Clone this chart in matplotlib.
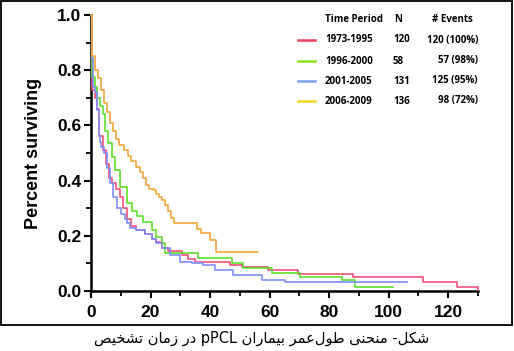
import matplotlib
matplotlib.use("Agg")
import matplotlib.pyplot as plt
from matplotlib.ticker import MultipleLocator
from matplotlib.lines import Line2D
from matplotlib.patches import Rectangle
import re

# ---------------- data ----------------
t_1973 = [0, 0.4, 1.5, 2.0, 2.8, 4.0, 5.0, 6.0, 7.0, 8.5, 9.7, 10.8, 12.0, 13.5, 15, 18, 20.5,
          22, 24, 26, 30.5, 32.6, 35, 46.7, 50.7, 59.5, 69.6, 88, 111.6, 123, 130]
s_1973 = [1.0, 0.73, 0.70, 0.66, 0.56, 0.51, 0.46, 0.41, 0.39, 0.37, 0.34, 0.30, 0.26, 0.235, 0.22,
          0.205, 0.19, 0.177, 0.155, 0.145, 0.13, 0.116, 0.105, 0.094, 0.087, 0.076, 0.062, 0.05,
          0.033, 0.015, 0.004]

t_1996 = [0, 0.5, 1.5, 2.0, 3.0, 4.0, 4.7, 5.7, 7.0, 8.0, 9.7, 12.0, 13.8, 15.5, 17.5, 20.5, 22,
          23.8, 25, 36, 47.4, 51, 60.8, 70.3, 84.4, 88.7, 101.5]
s_1996 = [1.0, 0.775, 0.74, 0.70, 0.67, 0.64, 0.58, 0.535, 0.485, 0.44, 0.377, 0.32, 0.29, 0.27,
          0.25, 0.22, 0.197, 0.174, 0.137, 0.12, 0.10, 0.083, 0.065, 0.05, 0.04, 0.015, 0.015]

t_2001 = [0, 0.3, 0.7, 1.5, 2.0, 2.6, 3.0, 3.5, 4.2, 5.3, 6.4, 7.4, 8.6, 10, 11.4, 12.2, 13, 15,
          18, 20.5, 22, 24, 26.5, 30, 34, 37.6, 41.7, 47.7, 57.5, 65, 106]
s_2001 = [1.0, 0.845, 0.74, 0.72, 0.655, 0.565, 0.54, 0.52, 0.50, 0.445, 0.39, 0.34, 0.30, 0.28,
          0.26, 0.245, 0.23, 0.22, 0.205, 0.19, 0.175, 0.155, 0.13, 0.105, 0.10, 0.094, 0.076,
          0.058, 0.04, 0.033, 0.033]

t_2006 = [0, 0.3, 1.5, 2.2, 3.5, 4.5, 5.5, 6.5, 7.5, 8.5, 9.5, 11, 12.5, 13.5, 15, 16.5, 17.5,
          18.5, 19.5, 21, 22, 23, 24, 25, 26, 27, 28, 35.5, 37, 40, 42, 56]
s_2006 = [1.0, 0.85, 0.80, 0.77, 0.73, 0.68, 0.65, 0.61, 0.58, 0.55, 0.53, 0.51, 0.49, 0.47, 0.45,
          0.43, 0.41, 0.385, 0.37, 0.365, 0.35, 0.34, 0.33, 0.31, 0.29, 0.265, 0.245, 0.225, 0.21,
          0.185, 0.14, 0.14]

periods = ["1973-1995", "1996-2000", "2001-2005", "2006-2009"]
n_values = ["120", "58", "131", "136"]
events = ["120 (100%)", "57 (98%)", "125 (95%)", "98 (72%)"]
curve_colors = ["#f2507a", "#5fe02a", "#7f8cf8", "#f5a53a"]
legend_colors = ["#ef3f5c", "#86e21e", "#7aa2ff", "#f2d21e"]

x_ticks = [0, 20, 40, 60, 80, 100, 120]
y_ticks = [0.0, 0.2, 0.4, 0.6, 0.8, 1.0]
caption = "شکل- منحنی طول\u200cعمر بیماران pPCL در زمان تشخیص"

# ---------------- simple Persian shaping ----------------
FORMS = {  # isolated, final, initial, medial
    "\u0627": (0xFE8D, 0xFE8E, None, None),
    "\u0628": (0xFE8F, 0xFE90, 0xFE91, 0xFE92),
    "\u062A": (0xFE95, 0xFE96, 0xFE97, 0xFE98),
    "\u062D": (0xFEA1, 0xFEA2, 0xFEA3, 0xFEA4),
    "\u062E": (0xFEA5, 0xFEA6, 0xFEA7, 0xFEA8),
    "\u062F": (0xFEA9, 0xFEAA, None, None),
    "\u0631": (0xFEAD, 0xFEAE, None, None),
    "\u0632": (0xFEAF, 0xFEB0, None, None),
    "\u0634": (0xFEB5, 0xFEB6, 0xFEB7, 0xFEB8),
    "\u0635": (0xFEB9, 0xFEBA, 0xFEBB, 0xFEBC),
    "\u0637": (0xFEC1, 0xFEC2, 0xFEC3, 0xFEC4),
    "\u0639": (0xFEC9, 0xFECA, 0xFECB, 0xFECC),
    "\u0644": (0xFEDD, 0xFEDE, 0xFEDF, 0xFEE0),
    "\u0645": (0xFEE1, 0xFEE2, 0xFEE3, 0xFEE4),
    "\u0646": (0xFEE5, 0xFEE6, 0xFEE7, 0xFEE8),
    "\u0648": (0xFEED, 0xFEEE, None, None),
    "\u06A9": (0xFB8E, 0xFB8F, 0xFB90, 0xFB91),
    "\u06CC": (0xFBFC, 0xFBFD, 0xFBFE, 0xFBFF),
}


def shape(text):
    out = []
    n = len(text)
    for i, ch in enumerate(text):
        if ch not in FORMS:
            out.append(ch)
            continue
        f = FORMS[ch]
        prev = text[i - 1] if i > 0 else ""
        nxt = text[i + 1] if i + 1 < n else ""
        jp = prev in FORMS and FORMS[prev][2] is not None
        jn = f[2] is not None and nxt in FORMS
        if jp and jn:
            code = f[3]
        elif jp:
            code = f[1]
        elif jn:
            code = f[2]
        else:
            code = f[0]
        out.append(chr(code))
    s = "".join(out).replace("\u200c", "")
    runs = re.findall(r"[A-Za-z0-9]+|[^A-Za-z0-9]+", s)
    vis = []
    for r in reversed(runs):
        vis.append(r if re.match(r"[A-Za-z0-9]", r) else r[::-1])
    return "".join(vis)


# ---------------- figure ----------------
fig = plt.figure(figsize=(5.14, 3.51), dpi=100)
W, H = 514, 351

ax = fig.add_axes([91 / W, 1 - 291 / H, (478 - 91) / W, (291 - 15) / H])
series = [(t_1973, s_1973), (t_1996, s_1996), (t_2001, s_2001), (t_2006, s_2006)]
for (t, s), c in zip(series, curve_colors):
    ax.step(t, s, where="post", color=c, lw=1.2, clip_on=False, zorder=3)

ax.set_xlim(0, 130)
ax.set_ylim(0, 1.0)
for side in ["top", "right"]:
    ax.spines[side].set_visible(False)
for side in ["left", "bottom"]:
    ax.spines[side].set_linewidth(1.8)
    ax.spines[side].set_color("black")

ax.set_xticks(x_ticks)
ax.set_xticklabels([str(v) for v in x_ticks])
ax.set_yticks(y_ticks)
ax.set_yticklabels([f"{v:.1f}" for v in y_ticks])
ax.xaxis.set_minor_locator(MultipleLocator(10))
ax.yaxis.set_minor_locator(MultipleLocator(0.1))
ax.tick_params(which="major", direction="out", length=5, width=1.5, pad=2,
               labelsize=12.5)
ax.tick_params(axis="x", which="major", pad=5)
ax.tick_params(which="minor", direction="out", length=3.5, width=1.3)
for lab in ax.get_xticklabels() + ax.get_yticklabels():
    lab.set_fontfamily("Liberation Sans")
    lab.set_fontweight("bold")
ax.set_ylabel("Percent surviving", fontsize=13, fontweight="bold",
              fontfamily="Liberation Sans", labelpad=11)
ax.patch.set_alpha(0)

# legend table
lf = dict(fontsize=7, fontweight="bold", fontfamily="Open Sans", va="center")
fig.text(325 / W, 1 - 20 / H, "Time Period", ha="left", **lf)
fig.text(394 / W, 1 - 20 / H, "N", ha="left", **lf)
fig.text(473 / W, 1 - 20 / H, "# Events", ha="right", **lf)
rows_y = [40, 61, 81, 101]
for yy, p, nv, ev, lc in zip(rows_y, periods, n_values, events, legend_colors):
    yf = 1 - yy / H
    fig.add_artist(Line2D([298 / W, 315 / W], [yf, yf], color=lc, lw=1.8,
                          transform=fig.transFigure))
    fig.text(325 / W, yf, p, ha="left", **lf)
    fig.text(393 / W, yf, nv, ha="left", **lf)
    fig.text(478 / W, yf, ev, ha="right", **lf)

# border frame
fig.add_artist(Rectangle((1 / W, 1 - 325 / H), 511 / W, 324 / H, fill=False,
                         edgecolor="black", lw=1.3, transform=fig.transFigure))

# caption
fig.text(262 / W, 1 - 338 / H, shape(caption), ha="center", va="center",
         fontsize=10.5, fontfamily="DejaVu Sans")

fig.savefig("out.png", dpi=100)
